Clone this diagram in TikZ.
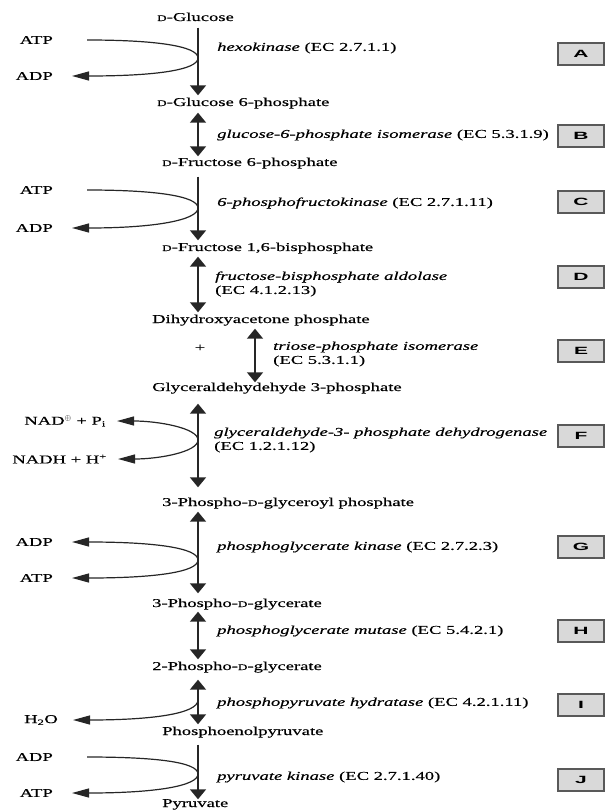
\documentclass[tikz,border=0pt]{standalone}
\usepackage{fontspec}
\setmainfont{Liberation Serif}[FakeStretch=1.55, FakeBold=0.4]
\newfontfamily\boxfont{Liberation Sans}[FakeStretch=2.0]
\usetikzlibrary{arrows.meta}
\newcommand{\Dsc}{{\fontsize{8.5}{10}\selectfont D}}
\tikzset{
  cmp/.style={anchor=west, inner sep=2pt, text height=8.5pt, text depth=2.5pt},
  enz/.style={anchor=west, inner sep=2pt, align=left},
  side/.style={anchor=east, inner sep=2pt},
  lbox/.style={draw=black!65, fill=black!15, line width=1.1pt, minimum width=46pt, minimum height=22pt, inner sep=0pt, font=\boxfont\bfseries\fontsize{10.5}{12}\selectfont},
  rxn/.style={line width=1.6pt, draw=black!85},
  down/.style={rxn, -{Triangle[length=10pt,width=16pt]}},
  both/.style={rxn, {Triangle[length=10pt,width=16pt]}-{Triangle[length=10pt,width=16pt]}},
  cur/.style={line width=1.2pt, draw=black!85},
  curtip/.style={cur, -{Triangle[length=17pt,width=9pt]}}
}
\begin{document}
\begin{tikzpicture}[x=1pt, y=-1pt, font=\fontsize{12}{14}\selectfont]
\useasboundingbox (0,0) rectangle (606,810);
\coordinate (ax) at (198,0);
% compounds
\node[cmp] (glc)  at (155,18)  {\Dsc-Glucose};
\node[cmp] (g6p)  at (155,103) {\Dsc-Glucose 6-phosphate};
\node[cmp] (f6p)  at (160,163) {\Dsc-Fructose 6-phosphate};
\node[cmp] (fbp)  at (160,248) {\Dsc-Fructose 1,6-bisphosphate};
\node[cmp] (dhap) at (150,320) {Dihydroxyacetone phosphate};
\node[cmp] (gap)  at (150,388) {Glyceraldehydehyde 3-phosphate};
\node[cmp] (bpg)  at (160,503) {3-Phospho-\Dsc-glyceroyl phosphate};
\node[cmp] (pg3)  at (150,604) {3-Phospho-\Dsc-glycerate};
\node[cmp] (pg2)  at (150,667) {2-Phospho-\Dsc-glycerate};
\node[cmp] (pep)  at (160,732) {Phosphoenolpyruvate};
\node[cmp] (pyr)  at (160,804) {Pyruvate};
\node (plus) at (200,348) {+};
% enzymes
\node[enz] (eA) at (215,48)  {\textit{hexokinase} (EC 2.7.1.1)};
\node[enz] (eB) at (215,135) {\textit{glucose-6-phosphate isomerase} (EC 5.3.1.9)};
\node[enz] (eC) at (215,203) {\textit{6-phosphofructokinase} (EC 2.7.1.11)};
\node[enz] (eD) at (213,284) {\textit{fructose-bisphosphate aldolase}\\(EC 4.1.2.13)};
\node[enz] (eE) at (271,354) {\textit{triose-phosphate isomerase}\\(EC 5.3.1.1)};
\node[enz] (eF) at (212,440) {\textit{glyceraldehyde-3- phosphate dehydrogenase}\\(EC 1.2.1.12)};
\node[enz] (eG) at (215,547) {\textit{phosphoglycerate kinase} (EC 2.7.2.3)};
\node[enz] (eH) at (215,631) {\textit{phosphoglycerate mutase} (EC 5.4.2.1)};
\node[enz] (eI) at (215,703) {\textit{phosphopyruvate hydratase} (EC 4.2.1.11)};
\node[enz] (eJ) at (215,777) {\textit{pyruvate kinase} (EC 2.7.1.40)};
% boxes
\node[lbox] (bA) at (581,54)  {A};
\node[lbox] (bB) at (581,136) {B};
\node[lbox] (bC) at (581,202) {C};
\node[lbox] (bD) at (581,277) {D};
\node[lbox] (bE) at (581,351) {E};
\node[lbox] (bF) at (581,436) {F};
\node[lbox] (bG) at (581,547) {G};
\node[lbox] (bH) at (581,631) {H};
\node[lbox] (bI) at (581,705) {I};
\node[lbox] (bJ) at (581,780) {J};
% side compounds
\node[side] (atpA) at (55,40)  {ATP};
\node[side] (adpA) at (55,76)  {ADP};
\node[side] (atpC) at (55,190) {ATP};
\node[side] (adpC) at (55,228) {ADP};
\node[side] (nad)  at (108,421) {NAD$^{\oplus}$ + P\textsubscript{i}};
\node[side] (nadh) at (109,459) {NADH + H\textsuperscript{+}};
\node[side] (adpG) at (55,542) {ADP};
\node[side] (atpG) at (55,578) {ATP};
\node[side] (h2o)  at (60,720) {H\textsubscript{2}O};
\node[side] (adpJ) at (55,757) {ADP};
\node[side] (atpJ) at (55,793) {ATP};
% main arrows
\draw[down, shorten <=2pt] (glc.south -| ax) -- (g6p.north -| ax);
\draw[both, shorten <=2pt, shorten >=-1pt] (g6p.south -| ax) -- (f6p.north -| ax);
\draw[down, shorten <=6pt] (f6p.south -| ax) -- (fbp.north -| ax);
\draw[both, shorten <=1pt] (fbp.south -| ax) -- (dhap.north -| ax);
\coordinate (axE) at (255,0);
\draw[both, shorten <=1pt, shorten >=-2pt] (dhap.south -| axE) -- (gap.north -| axE);
\draw[both, shorten <=8pt, shorten >=8pt] (gap.south -| ax) -- (bpg.north -| ax);
\draw[both, shorten <=1pt, shorten >=3pt] (bpg.south -| ax) -- (pg3.north -| ax);
\draw[both, shorten <=0pt, shorten >=0pt] (pg3.south -| ax) -- (pg2.north -| ax);
\draw[both, shorten <=5pt, shorten >=0pt] (pg2.south -| ax) -- (pep.north -| ax);
\draw[down, shorten <=5pt, shorten >=-3pt] (pep.south -| ax) -- (pyr.north -| ax);
% junctions
\coordinate (jA) at (198,58);
\coordinate (jC) at (198,208);
\coordinate (jF) at (198,440);
\coordinate (jG) at (198,560);
\coordinate (jI) at (198,700);
\coordinate (jJ) at (198,774);
% side arrows
\draw[curtip, shorten <=32pt, shorten >=17pt] (atpA.east) .. controls +(100,0) and +(0,-12) .. (jA) .. controls +(0,12) and +(100,0) .. (adpA.east);
\draw[curtip, shorten <=32pt, shorten >=17pt] (atpC.east) .. controls +(100,0) and +(0,-12) .. (jC) .. controls +(0,12) and +(100,0) .. (adpC.east);
\draw[curtip, shorten >=9pt] (jF) .. controls +(0,-12) and +(50,0) .. (nad.east);
\draw[curtip, shorten >=9pt] (jF) .. controls +(0,12) and +(50,0) .. (nadh.east);
\draw[curtip, shorten >=17pt] (jG) .. controls +(0,-12) and +(100,0) .. (adpG.east);
\draw[curtip, shorten >=17pt] (jG) .. controls +(0,12) and +(100,0) .. (atpG.east);
\draw[curtip, shorten >=13pt] (jI) .. controls +(0,14) and +(90,0) .. (h2o.east);
\draw[curtip, shorten <=32pt, shorten >=17pt] (adpJ.east) .. controls +(100,0) and +(0,-12) .. (jJ) .. controls +(0,12) and +(100,0) .. (atpJ.east);
\end{tikzpicture}
\end{document}
